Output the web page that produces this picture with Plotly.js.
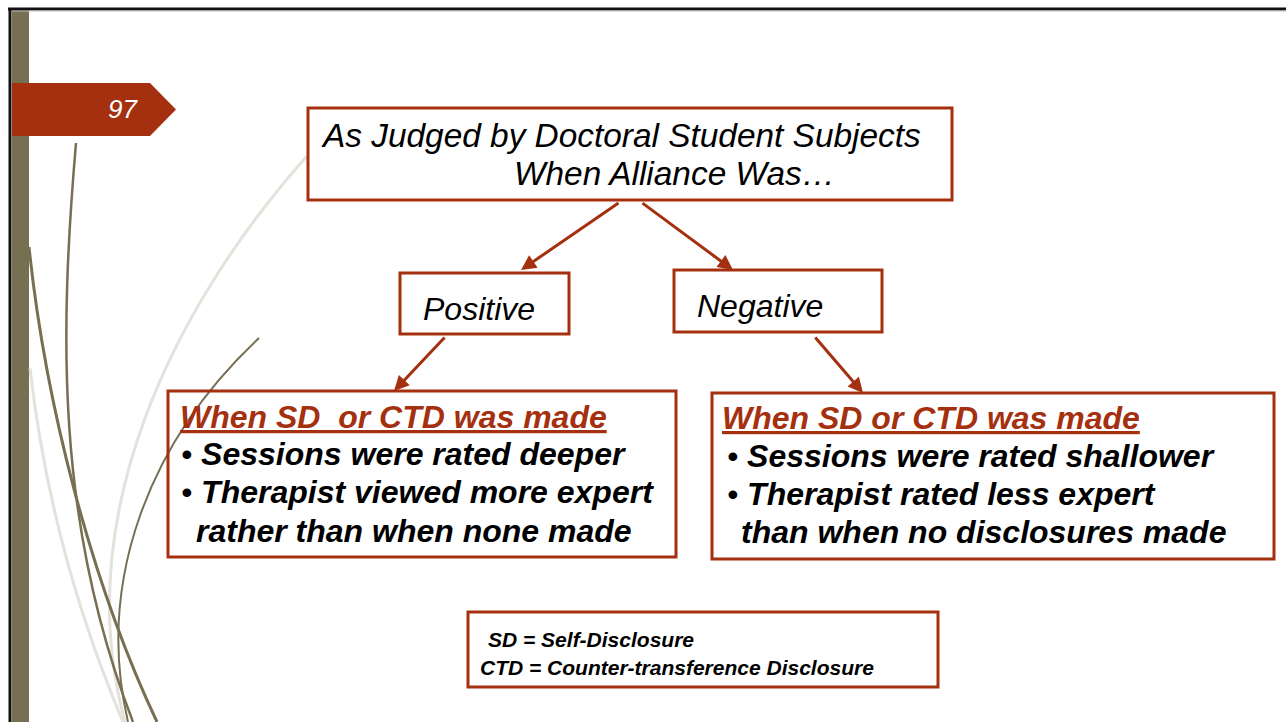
<!DOCTYPE html>
<html>
<head>
<meta charset="utf-8">
<script src="https://cdn.plot.ly/plotly-3.0.1.min.js"></script>
<style>
  html, body { margin: 0; padding: 0; background: #ffffff; }
  #chart { width: 1286px; height: 722px; }
</style>
</head>
<body>
<div id="chart"></div>
<script>
// ---- content (text of the slide diagram) ----
const pageNumber = "97";
const headerLines = ["As Judged by Doctoral Student Subjects", "When Alliance Was…"];
const branchLabels = ["Positive", "Negative"];
const outcomeHeadings = ["When SD\u00a0 or CTD was made", "When SD or CTD was made"];
const positiveFindings = ["Sessions were rated deeper", "Therapist viewed more expert", "rather than when none made"];
const negativeFindings = ["Sessions were rated shallower", "Therapist rated less expert", "than when no disclosures made"];
const bulletFlags = [true, true, false];
const legendLines = ["SD = Self-Disclosure", "CTD = Counter-transference Disclosure"];

// ---- styling ----
const RED = "#A5300F";
const OLIVE = "#776F51";
const LIGHT = "#E3E2DB";
const FONT = "Liberation Sans, Arial, sans-serif";

const shapes = [];
const annotations = [];

// slide frame
shapes.push({type: "rect", x0: 12, x1: 29, y0: 10, y1: 722, fillcolor: OLIVE, line: {width: 0}, layer: "below"});
shapes.push({type: "line", x0: 10, x1: 10, y0: 8, y1: 722, line: {color: "#111111", width: 3}});
shapes.push({type: "line", x0: 8, x1: 1286, y0: 9, y1: 9, line: {color: "#111111", width: 3}});
shapes.push({type: "line", x0: 12, x1: 1286, y0: 11, y1: 11, line: {color: "#BBBBBB", width: 1}});

// decorative curves
const curve = (path, color, w) => shapes.push({type: "path", path: path, line: {color: color, width: w}, layer: "below"});
curve("M307,156 C170,310 70,520 125,722", LIGHT, 3);
curve("M30,368 C45,500 80,620 123,722", LIGHT, 3);
curve("M29,247 C45,400 90,580 157,722", OLIVE, 3);
curve("M76,143 C60,330 55,520 133,722", OLIVE, 2.5);
curve("M259,338 C150,440 95,580 128,722", OLIVE, 2);

// page tag
shapes.push({type: "path", path: "M12,83 L150,83 L176,109.5 L150,136 L12,136 Z", fillcolor: RED, line: {width: 0}});

// boxes
const box = (x0, y0, x1, y1) => shapes.push({type: "rect", x0: x0, x1: x1, y0: y0, y1: y1, line: {color: RED, width: 3}, fillcolor: "rgba(0,0,0,0)"});
box(308, 108, 952, 200);
box(400, 273, 569, 334);
box(674, 270, 882, 332);
box(168, 391, 676, 557);
box(712, 393, 1274, 559);
box(468, 612, 938, 687);

// text helper
const txt = (s, x, y, size, color, opts) => annotations.push(Object.assign({
  text: s, x: x, y: y, xref: "x", yref: "y", xanchor: "left", yanchor: "middle",
  showarrow: false, font: {family: FONT, size: size, color: color}, borderpad: 0, borderwidth: 0
}, opts || {}));
const BUL = "<span style=\"font-weight:normal\">•</span> ";

txt("<i>" + pageNumber + "</i>", 123, 109, 26, "#ffffff", {xanchor: "center"});

txt("<i>" + headerLines[0] + "</i>", 321, 135.5, 33.4, "#000000");
txt("<i>" + headerLines[1] + "</i>", 514, 173.5, 33.4, "#000000");

txt("<i>" + branchLabels[0] + "</i>", 423, 309, 32, "#000000");
txt("<i>" + branchLabels[1] + "</i>", 697, 306, 32, "#000000");

txt("<b><i><u>" + outcomeHeadings[0] + "</u></i></b>", 180, 417, 32, RED);
const posX = [181, 181, 196], posY = [454, 492, 531];
positiveFindings.forEach((s, i) => txt("<b><i>" + (bulletFlags[i] ? BUL : "") + s + "</i></b>", posX[i], posY[i], 32, "#000000"));

txt("<b><i><u>" + outcomeHeadings[1] + "</u></i></b>", 722, 418, 32, RED);
const negX = [727, 727, 741], negY = [456, 494, 532];
negativeFindings.forEach((s, i) => txt("<b><i>" + (bulletFlags[i] ? BUL : "") + s + "</i></b>", negX[i], negY[i], 32, "#000000"));

txt("<b><i>" + legendLines[0] + "</i></b>", 488, 639.7, 21, "#000000");
txt("<b><i>" + legendLines[1] + "</i></b>", 480, 667.7, 21, "#000000");

// arrows
const arrow = (x0, y0, x1, y1) => annotations.push({
  text: "", x: x1, y: y1, ax: x0, ay: y0, xref: "x", yref: "y", axref: "x", ayref: "y",
  showarrow: true, arrowhead: 2, arrowsize: 1, arrowwidth: 3, arrowcolor: RED, standoff: 0
});
arrow(620, 202, 521, 270);
arrow(641, 202, 733, 270);
arrow(446, 336, 394, 391);
arrow(814, 336, 863, 393);

const layout = {
  width: 1286, height: 722,
  margin: {l: 0, r: 0, t: 0, b: 0, pad: 0},
  paper_bgcolor: "#ffffff", plot_bgcolor: "#ffffff",
  xaxis: {range: [0, 1286], visible: false, fixedrange: true},
  yaxis: {range: [722, 0], visible: false, fixedrange: true},
  showlegend: false,
  shapes: shapes,
  annotations: annotations
};

Plotly.newPlot("chart", [], layout, {displayModeBar: false, staticPlot: true});
</script>
</body>
</html>
